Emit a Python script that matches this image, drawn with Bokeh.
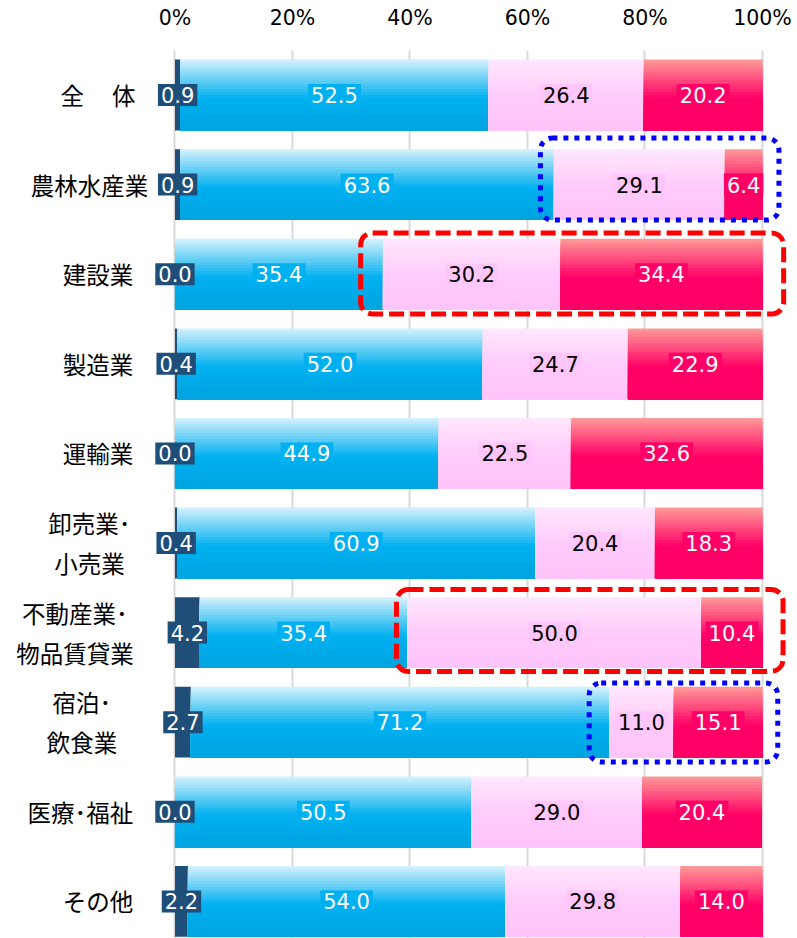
from bokeh.plotting import figure
from bokeh.models import Range1d, FixedTicker, BoxAnnotation, ColumnDataSource
from bokeh.embed import file_html
from bokeh.resources import INLINE
from bokeh.core.properties import value

# ---------------- data ----------------
CATEGORIES = ["全\u3000\u2009体", "農林水産業", "建設業", "製造業", "運輸業",
              "卸売業\uff65\n小売業", "不動産業\uff65\n物品賃貸業", "宿泊\uff65\n飲食業",
              "医療\uff65福祉", "その他"]
SERIES_NAVY = [0.9, 0.9, 0.0, 0.4, 0.0, 0.4, 4.2, 2.7, 0.0, 2.2]
SERIES_BLUE = [52.5, 63.6, 35.4, 52.0, 44.9, 60.9, 35.4, 71.2, 50.5, 54.0]
SERIES_PINK = [26.4, 29.1, 30.2, 24.7, 22.5, 20.4, 50.0, 11.0, 29.0, 29.8]
SERIES_RED = [20.2, 6.4, 34.4, 22.9, 32.6, 18.3, 10.4, 15.1, 20.4, 14.0]
TICKS = [0, 20, 40, 60, 80, 100]
TICK_LABELS = ["0%", "20%", "40%", "60%", "80%", "100%"]
HIGHLIGHT_ROWS = [1, 2, 6, 7]          # rows whose pink+red part is framed
HIGHLIGHT_FROM_SERIES = 2             # framing starts at the pink series

# ---------------- layout / style ----------------
LABEL_CENTER_OFFSETS = [-77, -85.5, -77, -77, -77, -85.5, -100, -93, -94.5, -77]
HIGHLIGHT_STYLE = [  # (kind, left pad %, top rel, bottom rel, right %)
    ("dot", 2.3, -0.52, 0.395, 102.8),
    ("dash", 3.8, -0.46, 0.444, 103.6),
    ("dash", 1.9, -0.481, 0.434, 103.5),
    ("dot", 3.4, -0.4375, 0.444, 102.6),
]
BAR_H = 0.79
N_STRIPS = 24

GRADIENTS = [
    None,
    [(0.0, (206, 239, 252)), (0.55, (0, 176, 240)), (1.0, (0, 164, 224))],
    [(0.0, (255, 230, 253)), (0.5, (255, 204, 251)), (1.0, (255, 196, 250))],
    [(0.0, (255, 150, 150)), (0.55, (255, 0, 102)), (1.0, (255, 0, 102))],
]
SOLID = ["#1f4e79", None, None, None]
LABEL_BG = ["#1f4e79", "#00b0f0", "#ffc6fb", "#ff0066"]
LABEL_TC = ["#ffffff", "#ffffff", "#000000", "#ffffff"]


def grad_color(stops, t):
    for (t0, c0), (t1, c1) in zip(stops[:-1], stops[1:]):
        if t <= t1:
            f = 0 if t1 == t0 else (t - t0) / (t1 - t0)
            c = [round(a + (b - a) * f) for a, b in zip(c0, c1)]
            return "#%02x%02x%02x" % tuple(c)
    return "#%02x%02x%02x" % stops[-1][1]


series = [SERIES_NAVY, SERIES_BLUE, SERIES_PINK, SERIES_RED]
n = len(CATEGORIES)
rows = list(range(n))

starts = []
acc = [0.0] * n
for s in series:
    starts.append(acc[:])
    acc = [a + v for a, v in zip(acc, s)]

p = figure(width=797, height=938, output_backend="svg", toolbar_location=None,
           x_range=Range1d(-29.70, 105.96), y_range=Range1d(9.414, -0.4967),
           min_border_left=0, min_border_right=0, min_border_bottom=0,
           min_border_top=50, x_axis_location="above")
p.outline_line_color = None
p.background_fill_color = "white"
p.yaxis.visible = False
p.ygrid.visible = False

ax = p.xaxis[0]
ax.ticker = FixedTicker(ticks=TICKS)
ax.major_label_overrides = {t: l for t, l in zip(TICKS, TICK_LABELS)}
ax.axis_line_color = None
ax.major_tick_line_color = None
ax.minor_tick_line_color = None
ax.major_tick_out = 0
ax.major_tick_in = 0
ax.major_label_standoff = 21
ax.major_label_text_font = "DejaVu Sans"
ax.major_label_text_font_size = "20.5px"
ax.major_label_text_color = "#000000"
p.xgrid.ticker = FixedTicker(ticks=TICKS)
p.xgrid.grid_line_color = "#d9d9d9"
p.xgrid.grid_line_width = 2

# bars
for si, s in enumerate(series):
    lefts = starts[si]
    rights = [l + v for l, v in zip(lefts, s)]
    if SOLID[si]:
        p.quad(left=lefts, right=rights, top=[r - BAR_H / 2 for r in rows],
               bottom=[r + BAR_H / 2 for r in rows], fill_color=SOLID[si], line_color=None)
    else:
        L, R, T, B, C = [], [], [], [], []
        for k in range(N_STRIPS):
            col = grad_color(GRADIENTS[si], k / (N_STRIPS - 1))
            for i in rows:
                L.append(lefts[i]); R.append(rights[i])
                T.append(i - BAR_H / 2 + k * BAR_H / N_STRIPS)
                B.append(i + BAR_H / 2)
                C.append(col)
        p.quad(left=L, right=R, top=T, bottom=B, fill_color=C, line_color=None)

# value labels
for si, s in enumerate(series):
    src = ColumnDataSource(dict(
        x=[st + v / 2 for st, v in zip(starts[si], s)],
        y=rows,
        t=["%.1f" % v for v in s],
    ))
    p.text(x="x", y="y", text="t", source=src, text_font=value("DejaVu Sans"),
           text_font_size="21px", text_align="center", text_baseline="middle",
           text_color=LABEL_TC[si], background_fill_color=LABEL_BG[si], padding=3)

# category labels
csrc = ColumnDataSource(dict(x=[0] * n, y=rows, t=CATEGORIES, xo=LABEL_CENTER_OFFSETS))
p.text(x="x", y="y", text="t", x_offset="xo", source=csrc,
       text_font=value("Noto Sans CJK JP"), text_font_size="23.5px",
       text_align="center", text_baseline="middle", text_color="#000000",
       text_line_height=1.18)

# highlight frames
for r, (kind, lpad, trel, brel, right) in zip(HIGHLIGHT_ROWS, HIGHLIGHT_STYLE):
    left = starts[HIGHLIGHT_FROM_SERIES][r] - lpad
    if kind == "dash":
        lc, lw, dash = "#ff0000", 5, "15 6"
    else:
        lc, lw, dash = "#0000ff", 5, "5 6"
    p.add_layout(BoxAnnotation(left=left, right=right, top=r + trel, bottom=r + brel,
                               fill_alpha=0, line_color=lc, line_alpha=1.0, line_width=lw,
                               line_dash=dash, border_radius=12, level="overlay"))

open("out.html", "w").write(file_html(p, INLINE))
